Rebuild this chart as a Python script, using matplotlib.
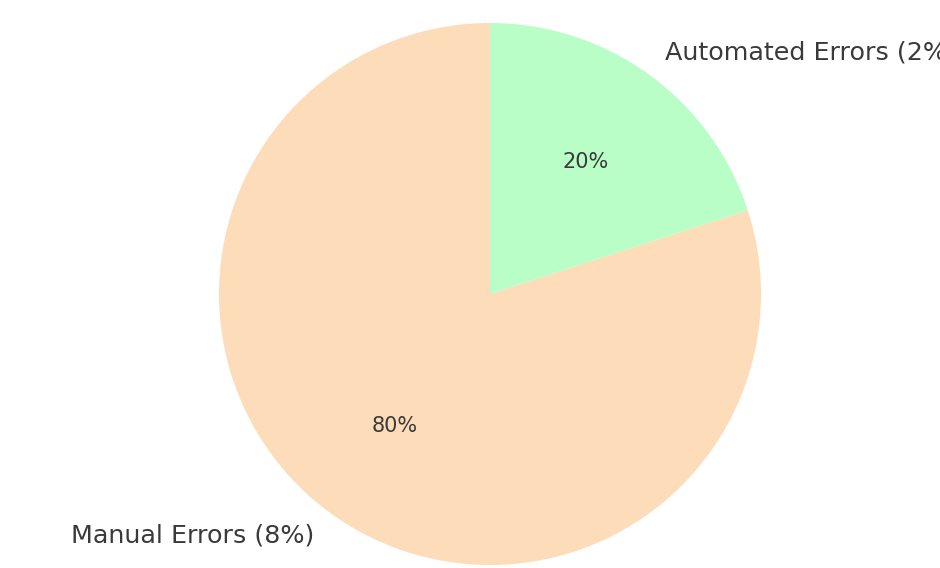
import matplotlib
matplotlib.use("Agg")
import matplotlib.pyplot as plt

labels = ["Manual Errors (8%)", "Automated Errors (2%)"]
values = [8, 2]
colors = ["#fddcb9", "#b9fdc7"]

W, H = 940, 568
fig = plt.figure(figsize=(W / 100, H / 100), dpi=100)
ax = fig.add_axes([0, 0, 1, 1])

cx, cy, r = 490, 568 - 294, 271
wedges, texts, autotexts = ax.pie(
    values, labels=labels, colors=colors, autopct="%1.0f%%",
    startangle=90, textprops={"color": "#3a3a3a"},
)
for t in texts:
    t.set_fontsize(18.3)
for t in autotexts:
    t.set_fontsize(15)

ax.set_xlim(-cx / r, (W - cx) / r)
ax.set_ylim(-cy / r, (H - cy) / r)
ax.set_aspect("auto")
ax.axis("off")

fig.savefig("out.png", dpi=100, facecolor="white")
